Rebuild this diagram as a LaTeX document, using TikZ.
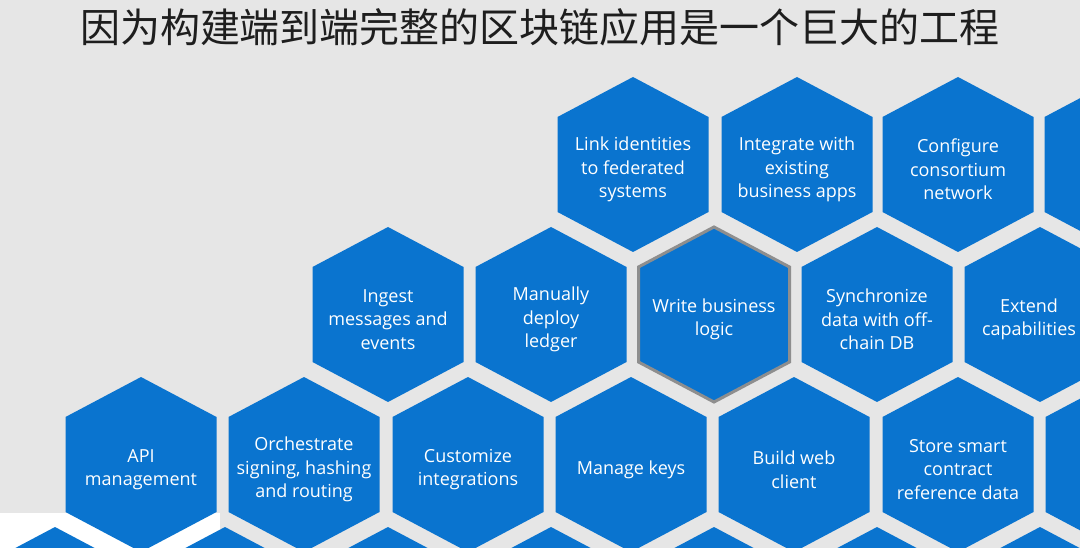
\documentclass[tikz,border=0pt]{standalone}
\usepackage{fontspec}
\setmainfont{Open Sans}
\newfontfamily\cjkfont{Noto Sans CJK SC}
\usetikzlibrary{positioning}
\usepackage{xcolor}

\definecolor{hexblue}{HTML}{0A74CF}
\definecolor{bggrey}{HTML}{E6E6E6}
\definecolor{rimgrey}{HTML}{8E8E8E}
\definecolor{titleink}{HTML}{1E1E1E}

% pointy-top cell round a centre (x,y), in pixels
\newcommand{\hexat}[2]{(#1,#2) ++(0,-87.5) -- ++(75.5,40) -- ++(0,95) -- ++(-75.5,40) -- ++(-75.5,-40) -- ++(0,-95) -- cycle}
\newcommand{\hexcell}[4]{%
  \fill[hexblue] \hexat{#2}{#3};
  \node[cell] (#1) at (#2,#3) {#4};}

\begin{document}
\begin{tikzpicture}[x=1pt,y=-1pt,
    cell/.style={align=center,text=white,inner sep=0pt,yshift=-5pt,
      font=\fontsize{18}{23.5}\selectfont},
    headline/.style={text=titleink,inner sep=0pt,
      font=\cjkfont\fontsize{40}{40}\selectfont}]
  \useasboundingbox (0,0) rectangle (1080,548);
  \clip (0,0) rectangle (1080,548);
  \fill[bggrey] (0,0) rectangle (1080,548);
  \fill[white] (0,513) rectangle (220,548);

  \node[headline] (title) at (540,27) {因为构建端到端完整的区块链应用是一个巨大的工程};

  % top row
  \hexcell{link}{633}{164.5}{Link identities\\to federated\\systems}
  \hexcell{integrate}{797}{164.5}{Integrate with\\existing\\business apps}
  \hexcell{consortium}{958}{164.5}{Configure\\consortium\\network}
  \fill[hexblue] \hexat{1120}{164.5};

  % second row
  \hexcell{ingest}{388}{314.5}{Ingest\\messages and\\events}
  \hexcell{deploy}{551}{314.5}{Manually\\deploy\\ledger}
  \fill[hexblue] \hexat{714}{314.5};
  \draw[rimgrey,line width=3pt] \hexat{714}{314.5};
  \node[cell] (logic) at (714,314.5) {Write business\\logic};
  \hexcell{offchain}{877}{314.5}{Synchronize\\data with off-\\chain DB}
  \fill[hexblue] \hexat{1040}{314.5};
  \node[cell] (extend) at (1029,314.5) {Extend\\capabilities};

  % third row
  \hexcell{api}{141}{464.5}{API\\management}
  \hexcell{orchestrate}{304}{464.5}{Orchestrate\\signing, hashing\\and routing}
  \hexcell{customize}{468}{464.5}{Customize\\integrations}
  \hexcell{keys}{631}{464.5}{Manage keys}
  \hexcell{webclient}{794}{464.5}{Build web\\client}
  \hexcell{refdata}{958}{464.5}{Store smart\\contract\\reference data}
  \fill[hexblue] \hexat{1121}{464.5};

  % bottom row, cut by the frame
  \foreach \cx in {55,225,388,551,714,877,1040}
    \fill[hexblue] \hexat{\cx}{614.5};
\end{tikzpicture}
\end{document}
